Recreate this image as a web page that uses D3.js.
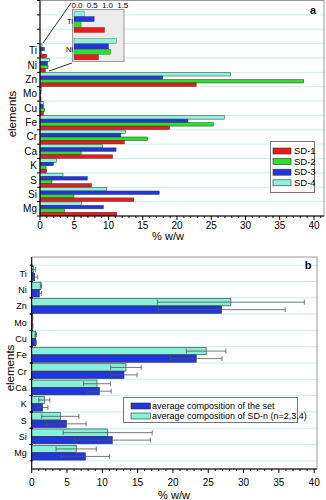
<!DOCTYPE html>
<html><head><meta charset="utf-8">
<script src="https://cdn.jsdelivr.net/npm/d3@7"></script>
<style>body{margin:0;background:#fff}svg{display:block;font-family:"Liberation Sans",Arial,sans-serif}</style>
</head><body><svg id="c" width="326" height="500"></svg>
<script>
const elements = ["Ti","Ni","Zn","Mo","Cu","Fe","Cr","Ca","K","S","Si","Mg"];
const seriesNames = ["SD-1","SD-2","SD-3","SD-4"];
const sd1 = [0.97,0.77,22.8,0.15,0.5,18.9,12.3,10.6,0.97,7.5,13.7,11.2];
const sd2 = [0.2,1.17,38.5,0.1,0.68,25.3,15.7,6.0,0.88,1.75,4.96,3.55];
const sd3 = [0.63,1.1,17.9,0.15,0.5,21.6,11.8,11.1,1.95,6.9,17.4,9.25];
const sd4 = [0.3,1.36,27.8,0.25,0.5,26.9,12.5,9.15,2.4,3.36,9.7,6.1];
const insetElements = ["Ti","Ni"];
const insetTicks = [0,0.5,1.0,1.5];
const xTicks = [0,5,10,15,20,25,30,35,40];
const bNames = ["average composition of the set","average composition of SD-n (n=2,3,4)"];
const avgSet = [0.42,1.08,26.9,0.12,0.57,23.3,13.07,9.6,1.55,4.9,11.4,7.6];
const errSet = [0.43,0.28,9.0,0.05,0.1,3.65,1.85,1.65,0.75,2.8,5.4,3.4];
const avgN = [0.23,1.32,28.2,0.1,0.57,24.7,13.35,9.25,1.79,4.05,10.76,6.3];
const errN = [0.3,0.1,10.4,0.05,0.1,2.8,2.15,1.9,0.78,2.64,6.3,2.85];

const colA = {"SD-1":"#ee1a1a","SD-2":"#2ee02e","SD-3":"#2236e0","SD-4":"#8ff0dc"};
const colB = ["#2236e0","#86f0d8"];
const grid = "#c6eeee", border = "#9a9a9a", outline = "#303030";
const svg = d3.select("#c");
const seriesA = {"SD-1":sd1,"SD-2":sd2,"SD-3":sd3,"SD-4":sd4};
const order = ["SD-4","SD-3","SD-2","SD-1"]; // top to bottom

// ---------- Panel a ----------
const L = 40, R = 324, T = 0.5, B = 216;
const blanks = ["_a","_b","_c"];
const xA = d3.scaleLinear().domain([0,41.46]).range([L,R]);
const yA = d3.scaleBand().domain(blanks.concat(elements)).range([T,B]).padding(0);
const yAin = d3.scaleBand().domain(order).range([0,yA.bandwidth()]).paddingInner(0).paddingOuter(0.07);
const gA = svg.append("g");
yA.domain().forEach(d=>{
  gA.append("line").attr("x1",L).attr("x2",R).attr("y1",yA(d)).attr("y2",yA(d)).attr("stroke",grid).attr("stroke-width",1);
});
gA.append("rect").attr("x",L).attr("y",T).attr("width",R-L).attr("height",B-T).attr("fill","none").attr("stroke",border).attr("stroke-width",1);
elements.forEach((e,i)=>{
  order.forEach(s=>{
    gA.append("rect").attr("x",xA(0)).attr("y",yA(e)+yAin(s))
      .attr("width",Math.max(0.5,xA(seriesA[s][i])-xA(0))).attr("height",yAin.bandwidth())
      .attr("fill",colA[s]).attr("stroke",outline).attr("stroke-width",0.5);
  });
});
gA.append("line").attr("x1",L).attr("x2",L).attr("y1",T).attr("y2",B).attr("stroke","#000").attr("stroke-width",1);
yA.domain().concat(["_end"]).forEach(d=>{
  const y = d==="_end" ? B : yA(d);
  gA.append("line").attr("x1",L-3).attr("x2",L).attr("y1",y).attr("y2",y).attr("stroke","#000");
});
elements.forEach(e=>{
  gA.append("text").attr("x",L-3).attr("y",yA(e)+yA.bandwidth()/2+3.5).attr("text-anchor","end").attr("font-size",10).text(e);
});
gA.append("line").attr("x1",L).attr("x2",R).attr("y1",B).attr("y2",B).attr("stroke","#000");
d3.range(0,42,1).forEach(v=>{
  const major = v%5===0;
  gA.append("line").attr("x1",xA(v)).attr("x2",xA(v)).attr("y1",B).attr("y2",B+(major?4:2)).attr("stroke","#000");
});
xTicks.forEach(v=>{
  gA.append("text").attr("x",xA(v)).attr("y",B+13).attr("text-anchor","middle").attr("font-size",10).text(v);
});
gA.append("text").attr("x",168).attr("y",240).attr("text-anchor","middle").attr("font-size",11).text("% w/w");
gA.append("text").attr("transform","translate(15.5,114) rotate(-90)").attr("text-anchor","middle").attr("font-size",11.5).text("elements");
gA.append("text").attr("x",313).attr("y",14).attr("text-anchor","middle").attr("font-size",11).attr("font-weight","bold").text("a");
const lgA = gA.append("g");
lgA.append("rect").attr("x",270.5).attr("y",141.5).attr("width",44).attr("height",51).attr("fill","#fff").attr("stroke","#777");
seriesNames.forEach((s,i)=>{
  const y = 148 + i*10.6;
  lgA.append("rect").attr("x",273).attr("y",y).attr("width",18).attr("height",6).attr("fill",colA[s]).attr("stroke",outline).attr("stroke-width",0.6);
  lgA.append("text").attr("x",294).attr("y",y+6).attr("font-size",9.5).text(s);
});
// inset
const inX0 = 72.5, inX1 = 124, inY0 = 9.5, inY1 = 61.5;
gA.append("line").attr("x1",43).attr("y1",43).attr("x2",71).attr("y2",3).attr("stroke","#000").attr("stroke-width",0.8);
gA.append("line").attr("x1",49).attr("y1",71).attr("x2",72).attr("y2",63).attr("stroke","#000").attr("stroke-width",0.8);
gA.append("rect").attr("x",inX0).attr("y",inY0).attr("width",inX1-inX0).attr("height",inY1-inY0).attr("fill","#ececec").attr("stroke","#9a9a9a");
const xI = d3.scaleLinear().domain([0,1.6]).range([75,123.8]);
const yI = d3.scaleBand().domain(insetElements).range([inY0,inY1]).paddingInner(0.2).paddingOuter(0.05);
const yIin = d3.scaleBand().domain(order).range([0,yI.bandwidth()]).padding(0.04);
insetElements.forEach(e=>{
  const i = elements.indexOf(e);
  order.forEach(s=>{
    gA.append("rect").attr("x",xI(0)-1).attr("y",yI(e)+yIin(s)).attr("width",xI(seriesA[s][i])-xI(0)+1).attr("height",yIin.bandwidth())
      .attr("fill",colA[s]).attr("stroke",outline).attr("stroke-width",0.3);
  });
  gA.append("text").attr("x",73).attr("y",yI(e)+yI.bandwidth()/2+2.5).attr("text-anchor","end").attr("font-size",7.5).text(e);
});
insetTicks.forEach(v=>{
  gA.append("text").attr("x",xI(v)+2).attr("y",7.5).attr("text-anchor","middle").attr("font-size",8).text(d3.format(".1f")(v));
});

// ---------- Panel b ----------
const L2 = 31.7, R2 = 317, T2 = 257, B2 = 469;
const xB = d3.scaleLinear().domain([0,40.4]).range([L2,R2]);
const yB = d3.scaleBand().domain(elements).range([T2,B2]).paddingInner(0).paddingOuter(0.5);
const yBin = d3.scaleBand().domain(["n","set"]).range([0,yB.bandwidth()]).paddingInner(0.02).paddingOuter(0.1);
const gB = svg.append("g");
elements.forEach(e=>{
  gB.append("line").attr("x1",L2).attr("x2",R2).attr("y1",yB(e)).attr("y2",yB(e)).attr("stroke",grid);
});
gB.append("line").attr("x1",L2).attr("x2",R2).attr("y1",yB(elements[11])+yB.step()).attr("y2",yB(elements[11])+yB.step()).attr("stroke",grid);
gB.append("rect").attr("x",L2).attr("y",T2).attr("width",R2-L2).attr("height",B2-T2).attr("fill","none").attr("stroke",border);
const bSeries = [{k:"n",v:avgN,e:errN,c:colB[1]},{k:"set",v:avgSet,e:errSet,c:colB[0]}];
elements.forEach((el,i)=>{
  bSeries.forEach(s=>{
    const y = yB(el)+yBin(s.k), h = yBin.bandwidth();
    gB.append("rect").attr("x",xB(0)).attr("y",y).attr("width",Math.max(0.6,xB(s.v[i])-xB(0))).attr("height",h)
      .attr("fill",s.c).attr("stroke",outline).attr("stroke-width",0.6);
    const lo = xB(Math.max(0,s.v[i]-s.e[i])), hi = xB(s.v[i]+s.e[i]), cy = y+h/2;
    gB.append("line").attr("x1",lo).attr("x2",hi).attr("y1",cy).attr("y2",cy).attr("stroke","#555").attr("stroke-width",0.8);
    [lo,hi].forEach(x=>gB.append("line").attr("x1",x).attr("x2",x).attr("y1",cy-2.5).attr("y2",cy+2.5).attr("stroke","#555").attr("stroke-width",0.8));
  });
});
gB.append("line").attr("x1",L2).attr("x2",L2).attr("y1",T2).attr("y2",B2).attr("stroke","#000");
elements.forEach(e=>{
  [yB(e), yB(e)+yB.step()].forEach(y=>gB.append("line").attr("x1",L2-2).attr("x2",L2+1).attr("y1",y).attr("y2",y).attr("stroke","#000"));
  gB.append("text").attr("x",L2-5).attr("y",yB(e)+yB.bandwidth()/2+3.5).attr("text-anchor","end").attr("font-size",9).text(e);
});
gB.append("line").attr("x1",L2).attr("x2",R2).attr("y1",B2).attr("y2",B2).attr("stroke","#000");
d3.range(0,41,1).forEach(v=>{
  const major = v%5===0;
  gB.append("line").attr("x1",xB(v)).attr("x2",xB(v)).attr("y1",B2).attr("y2",B2+(major?4:2)).attr("stroke","#000");
});
xTicks.forEach(v=>{
  gB.append("text").attr("x",xB(v)).attr("y",B2+17).attr("text-anchor","middle").attr("font-size",10).text(v);
});
gB.append("text").attr("x",174).attr("y",499).attr("text-anchor","middle").attr("font-size",11).text("% w/w");
gB.append("text").attr("transform","translate(14,368) rotate(-90)").attr("text-anchor","middle").attr("font-size",11.5).text("elements");
gB.append("text").attr("x",308).attr("y",269).attr("text-anchor","middle").attr("font-size",11).attr("font-weight","bold").text("b");
const lgB = gB.append("g");
lgB.append("rect").attr("x",123.5).attr("y",397.5).attr("width",174).attr("height",25).attr("fill","#fff").attr("stroke","#777");
[colB[0],colB[1]].forEach((c,i)=>{
  const y = 403 + i*10;
  lgB.append("rect").attr("x",131).attr("y",y).attr("width",19.5).attr("height",6).attr("fill",c).attr("stroke",outline).attr("stroke-width",0.6);
  lgB.append("text").attr("x",152).attr("y",y+6).attr("font-size",9).text(bNames[i]);
});
</script></body></html>
